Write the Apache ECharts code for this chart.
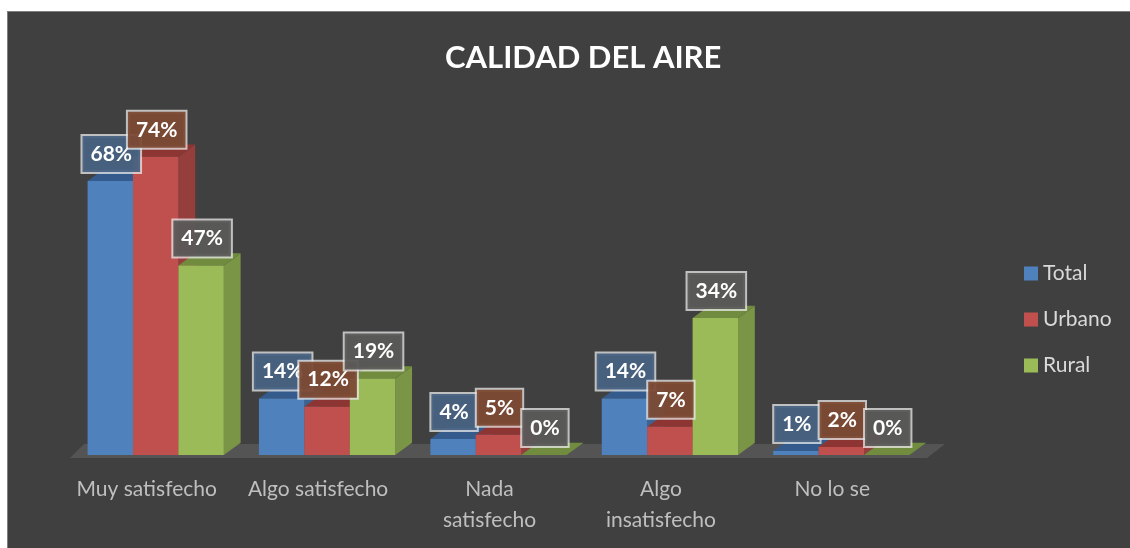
<!DOCTYPE html>
<html>
<head>
<meta charset="utf-8">
<script src="https://cdn.jsdelivr.net/npm/echarts@6/dist/echarts.min.js"></script>
<style>
	html, body { margin: 0; padding: 0; background: #fff; }
	#chart {
		position: absolute; left: 7px; top: 11px;
		width: 1123px; height: 537px;
		box-sizing: border-box;
		border-left: 1px solid #7f7f7f; border-top: 1px solid #7f7f7f;
		background: #404040;
	}
</style>
</head>
<body>
<div id="chart"></div>
<script>
	var categories = ['Muy satisfecho', 'Algo satisfecho', 'Nada\nsatisfecho', 'Algo\ninsatisfecho', 'No lo se'];
	var seriesNames = ['Total', 'Urbano', 'Rural'];
	var totalValues = [68, 14, 4, 14, 1];
	var urbanoValues = [74, 12, 5, 7, 2];
	var ruralValues = [47, 19, 0, 34, 0];

	// colores de cara frontal / lateral / superior / etiqueta
	var palette = [
		{ front: '#4f81bd', side: '#3b6494', top: '#345b8c', label: 'rgba(72,98,130,0.95)' },
		{ front: '#c0504d', side: '#963e3b', top: '#8c3533', label: 'rgba(124,74,52,0.95)' },
		{ front: '#9bbb59', side: '#7a9545', top: '#718c3e', label: 'rgba(90,90,88,0.95)' }
	];

	var FONT = 'Lato, "Open Sans", sans-serif';

	function barRenderer(idx) {
		return function(params, api) {
			var cat = api.value(0);
			var val = api.value(1);
			var band = api.size([1, 0])[0];
			var w = band * 0.265;
			var dx = w * 0.37, dy = w * 0.27;
			var base = api.coord([cat, 0]);
			var top = api.coord([cat, val]);
			var x0 = base[0] - 1.5 * w + idx * w;
			var x1 = x0 + w;
			var yb = base[1], yt = top[1];
			var c = palette[idx];
			return {
				type : 'group',
				children : [ {
					type : 'polygon',
					shape : { points : [ [ x1, yt ], [ x1 + dx, yt - dy ], [ x1 + dx, yb - dy ], [ x1, yb ] ] },
					style : { fill : c.side }
				}, {
					type : 'polygon',
					shape : { points : [ [ x0, yt ], [ x0 + dx, yt - dy ], [ x1 + dx, yt - dy ], [ x1, yt ] ] },
					style : { fill : c.top }
				}, {
					type : 'rect',
					shape : { x : x0, y : yt, width : w, height : yb - yt },
					style : { fill : c.front }
				}, {
					type : 'text',
					z2 : 100,
					x : x0 + w / 2 + 1,
					y : yt - 27,
					style : {
						text : val + '%',
						fill : '#fff',
						font : 'bold 21px ' + FONT,
						align : 'center',
						verticalAlign : 'middle',
						lineHeight : 24,
						backgroundColor : c.label,
						borderColor : 'rgba(235,235,235,0.75)',
						borderWidth : 2,
						padding : [ 6, 8, 6, 8 ]
					}
				} ]
			};
		};
	}

	function floorRenderer(params, api) {
		var cs = params.coordSys;
		var base = api.coord([0, 0]);
		var yb = base[1] + 3;
		var depth = 14;
		return {
			type : 'polygon',
			shape : { points : [ [ cs.x, yb ], [ cs.x + cs.width, yb ], [ cs.x + cs.width + 18, yb - depth ], [ cs.x + 14, yb - depth ] ] },
			style : { fill : '#545454' }
		};
	}

	function toData(arr) {
		return arr.map(function(v, i) { return [ i, v ]; });
	}

	var valueLists = [ totalValues, urbanoValues, ruralValues ];
	var series = [ {
		type : 'custom',
		name : 'floor',
		z : 1,
		silent : true,
		renderItem : floorRenderer,
		data : [ [ 0, 0 ] ]
	} ];
	seriesNames.forEach(function(name, i) {
		series.push({
			type : 'custom',
			name : name,
			z : 2,
			itemStyle : { color : palette[i].front },
			renderItem : barRenderer(i),
			data : toData(valueLists[i])
		});
	});

	var myChart = echarts.init(document.getElementById('chart'));
	var option = {
		backgroundColor : '#404040',
		animation : false,
		title : {
			text : 'CALIDAD DEL AIRE',
			left : 432,
			top : 25,
			textStyle : { color : '#fff', fontWeight : 'bold', fontSize : 31, fontFamily : FONT }
		},
		legend : {
			data : seriesNames,
			orient : 'vertical',
			left : 1011,
			top : 246,
			icon : 'rect',
			itemWidth : 14,
			itemHeight : 14,
			itemGap : 25,
			textStyle : { color : '#d9d9d9', fontSize : 21, fontFamily : FONT, lineHeight : 20 }
		},
		grid : {
			left : 62,
			top : 40,
			width : 857,
			bottom : 93
		},
		xAxis : {
			type : 'category',
			data : categories,
			axisLine : { show : false },
			axisTick : { show : false },
			axisLabel : {
				color : '#bfbfbf',
				fontSize : 21,
				fontFamily : FONT,
				lineHeight : 31,
				margin : 19,
				padding : [ 0, 18, 0, 0 ],
				interval : 0
			},
			splitLine : { show : false }
		},
		yAxis : {
			type : 'value',
			min : 0,
			max : 100,
			show : false
		},
		series : series
	};
	myChart.setOption(option);
</script>
</body>
</html>
